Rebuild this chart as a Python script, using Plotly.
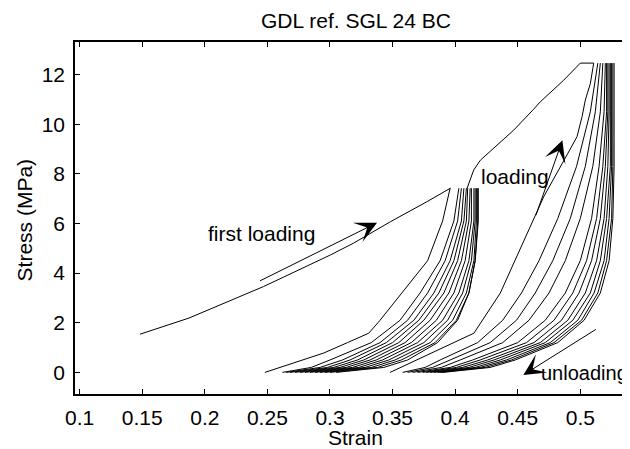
import plotly.graph_objects as go

# first loading (up to 7.4 MPa) and the later loading up to 12.5 MPa
first_strain = [0.1483, 0.1874, 0.247, 0.3003, 0.3186, 0.3483, 0.3776, 0.3962]
first_stress = [1.54, 2.19, 3.46, 4.73, 5.2, 6.07, 6.88, 7.42]

second_strain = [0.4095, 0.4148, 0.4202, 0.4308, 0.4468, 0.4627, 0.468, 0.4867, 0.500, 0.5107]
second_stress = [7.41, 8.15, 8.55, 9.02, 9.76, 10.6, 10.9, 11.77, 12.46, 12.46]

# first unloading from each peak
unload1_strain = [0.248, 0.295, 0.314, 0.331, 0.340, 0.357, 0.378, 0.390, 0.394, 0.396]
unload1_stress = [0, 0.78, 1.2, 1.58, 2.1, 3.19, 4.5, 6.1, 6.9, 7.42]

unload2_strain = [0.348, 0.415, 0.436, 0.452, 0.471, 0.492, 0.4974, 0.5014, 0.504, 0.508, 0.5107]
unload2_stress = [0, 1.58, 3.19, 5.0, 7.1, 9.0, 9.5, 10.3, 10.97, 11.63, 12.46]

# cycles between 0 and 7.4 MPa: strain of each curve at these stresses
cycle1_stress = [0, 0.2, 0.5, 1.2, 2.1, 3.2, 4.5, 6.1, 7.42]
cycle1_strain = [
    [0.262, 0.285, 0.300, 0.333, 0.356, 0.372, 0.388, 0.399, 0.403],
    [0.265, 0.292, 0.310, 0.340, 0.362, 0.378, 0.392, 0.402, 0.405],
    [0.268, 0.298, 0.316, 0.345, 0.367, 0.383, 0.396, 0.405, 0.407],
    [0.272, 0.303, 0.322, 0.350, 0.371, 0.387, 0.399, 0.407, 0.409],
    [0.276, 0.308, 0.327, 0.355, 0.375, 0.391, 0.402, 0.409, 0.410],
    [0.280, 0.313, 0.332, 0.360, 0.380, 0.395, 0.405, 0.411, 0.412],
    [0.284, 0.318, 0.337, 0.365, 0.385, 0.399, 0.408, 0.413, 0.413],
    [0.288, 0.323, 0.342, 0.370, 0.390, 0.403, 0.411, 0.415, 0.415],
    [0.292, 0.328, 0.347, 0.375, 0.394, 0.406, 0.413, 0.416, 0.416],
    [0.296, 0.333, 0.352, 0.380, 0.398, 0.409, 0.415, 0.417, 0.417],
    [0.300, 0.338, 0.357, 0.384, 0.401, 0.411, 0.416, 0.418, 0.418],
    [0.305, 0.343, 0.362, 0.386, 0.402, 0.411, 0.416, 0.4185, 0.4185],
]

# cycles between 0 and 12.5 MPa
cycle2_stress = [0, 0.2, 0.5, 1.2, 2.1, 3.2, 4.5, 6.2, 8.3, 10.5, 12.46]
cycle2_strain = [
    [0.358, 0.376, 0.388, 0.418, 0.438, 0.453, 0.467, 0.482, 0.497, 0.508, 0.514],
    [0.362, 0.382, 0.396, 0.428, 0.449, 0.464, 0.478, 0.492, 0.504, 0.512, 0.516],
    [0.366, 0.389, 0.404, 0.438, 0.459, 0.475, 0.488, 0.500, 0.510, 0.516, 0.518],
    [0.370, 0.396, 0.414, 0.450, 0.472, 0.488, 0.500, 0.509, 0.515, 0.519, 0.520],
    [0.374, 0.401, 0.420, 0.457, 0.479, 0.494, 0.505, 0.513, 0.518, 0.521, 0.521],
    [0.377, 0.406, 0.426, 0.463, 0.485, 0.499, 0.509, 0.516, 0.520, 0.522, 0.522],
    [0.380, 0.411, 0.431, 0.468, 0.490, 0.504, 0.513, 0.519, 0.522, 0.523, 0.523],
    [0.383, 0.416, 0.436, 0.472, 0.494, 0.508, 0.516, 0.521, 0.524, 0.524, 0.524],
    [0.386, 0.420, 0.441, 0.476, 0.498, 0.511, 0.519, 0.523, 0.525, 0.525, 0.525],
    [0.388, 0.424, 0.445, 0.479, 0.501, 0.514, 0.521, 0.525, 0.526, 0.526, 0.526],
    [0.390, 0.428, 0.448, 0.482, 0.503, 0.516, 0.523, 0.526, 0.527, 0.527, 0.527],
]

x_ticks = [0.1, 0.15, 0.2, 0.25, 0.3, 0.35, 0.4, 0.45, 0.5]
x_tick_labels = ['0.1', '0.15', '0.2', '0.25', '0.3', '0.35', '0.4', '0.45', '0.5']
y_ticks = [0, 2, 4, 6, 8, 10, 12]

line = dict(color='black', width=1)
fig = go.Figure()

fig.add_trace(go.Scatter(x=first_strain, y=first_stress, mode='lines', line=line))
fig.add_trace(go.Scatter(x=second_strain, y=second_stress, mode='lines', line=line))
fig.add_trace(go.Scatter(x=unload1_strain, y=unload1_stress, mode='lines', line=line))
fig.add_trace(go.Scatter(x=unload2_strain, y=unload2_stress, mode='lines', line=line))
for s in cycle1_strain:
    fig.add_trace(go.Scatter(x=s, y=cycle1_stress, mode='lines', line=line))
for s in cycle2_strain:
    fig.add_trace(go.Scatter(x=s, y=cycle2_stress, mode='lines', line=line))

# arrows: (tip x, tip y, tail x, tail y)
arrows = [
    (0.3376, 6.03, 0.2430, 3.66),
    (0.4857, 9.35, 0.4641, 6.27),
    (0.4545, -0.10, 0.5136, 1.77),
]
for tx, ty, sx, sy in arrows:
    fig.add_annotation(x=tx, y=ty, ax=sx, ay=sy, xref='x', yref='y', axref='x', ayref='y',
                       text='', showarrow=True, arrowhead=3, arrowsize=3.6, arrowwidth=1,
                       arrowcolor='black')

fig.add_annotation(x=0.2452, y=5.6, text='first loading', showarrow=False,
                   xanchor='center', yanchor='middle', xref='x', yref='y')
fig.add_annotation(x=0.4481, y=7.88, text='loading', showarrow=False,
                   xanchor='center', yanchor='middle', xref='x', yref='y')
fig.add_annotation(x=0.4672, y=-0.02, text='unloading', showarrow=False,
                   xanchor='left', yanchor='middle', xref='x', yref='y',
                   font=dict(size=20))

# titles placed like the MATLAB figure
fig.add_annotation(x=0.507, y=1.0615, text='GDL ref. SGL 24 BC', showarrow=False,
                   xanchor='center', yanchor='middle', xref='paper', yref='paper')
fig.add_annotation(x=0.505, y=-0.124, text='Strain', showarrow=False,
                   xanchor='center', yanchor='middle', xref='paper', yref='paper')
fig.add_annotation(x=-0.0913, y=0.494, text='Stress (MPa)', showarrow=False, textangle=-90,
                   xanchor='center', yanchor='middle', xref='paper', yref='paper')

# the page body has an 8px margin, so the figure is shifted up/left by that much
fig.update_layout(
    width=622, height=441,
    margin=dict(l=67, r=0, t=34, b=55),
    plot_bgcolor='white', paper_bgcolor='white',
    showlegend=False,
    font=dict(family='Liberation Sans, Arial, sans-serif', size=21, color='black'),
)
fig.update_xaxes(range=[0.0963, 0.5397], tickvals=x_ticks, ticktext=x_tick_labels,
                 showline=True, linecolor='black', linewidth=1.5, mirror='ticks',
                 ticks='inside', ticklen=5, tickcolor='black', showgrid=False, zeroline=False,
                 ticklabelstandoff=4)
fig.update_yaxes(range=[-0.87, 13.31], tickvals=y_ticks,
                 showline=True, linecolor='black', linewidth=1.5, mirror=False,
                 ticks='inside', ticklen=5, tickcolor='black', showgrid=False, zeroline=False,
                 ticklabelstandoff=4)

fig.write_html('out.html')
